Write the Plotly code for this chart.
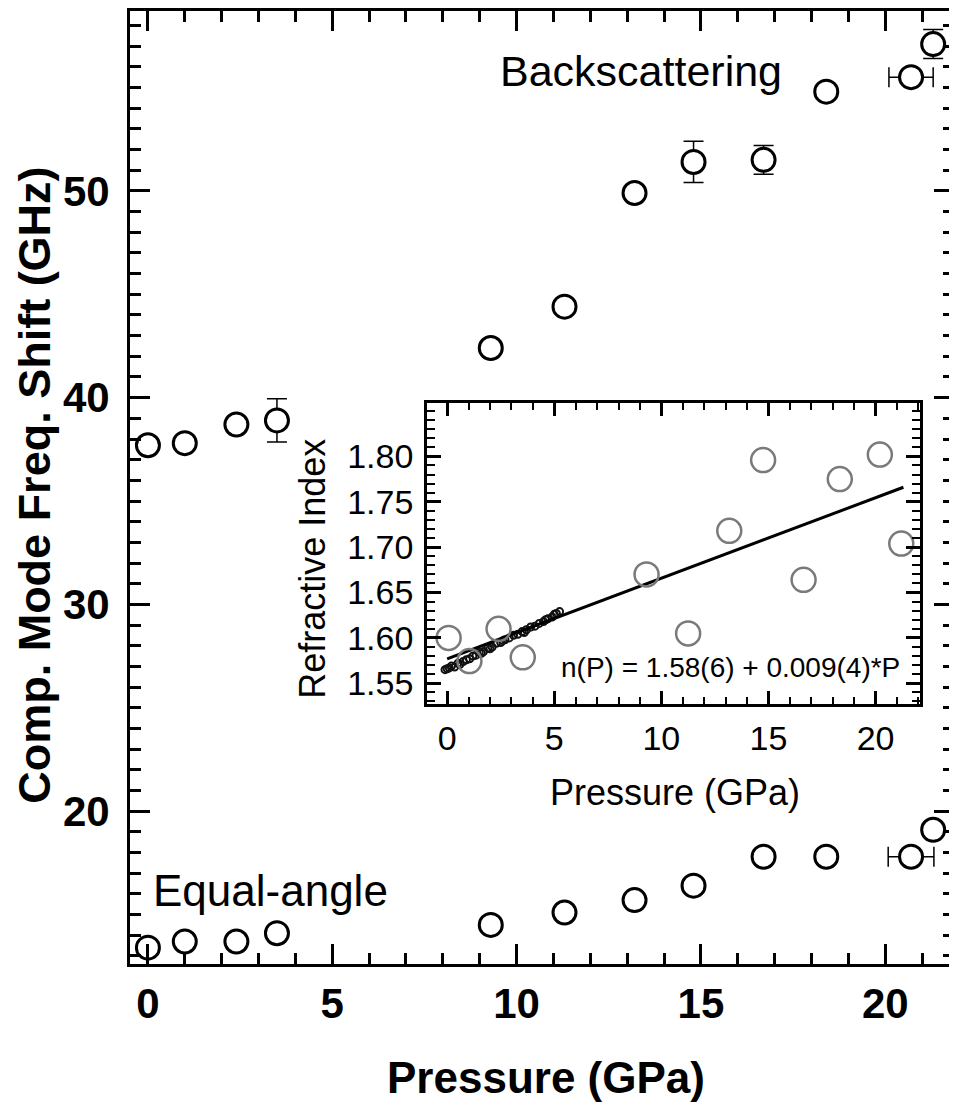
import plotly.graph_objects as go

# ---------------- data ----------------
# Backscattering geometry (main plot)
bs_pressure = [0.0, 1.0, 2.4, 3.5, 9.3, 11.3, 13.2, 14.8, 16.7, 18.4, 20.7, 21.3]
bs_freq = [37.7, 37.8, 38.7, 38.9, 42.4, 44.4, 49.9, 51.4, 51.5, 54.8, 55.5, 57.1]
bs_freq_err = [None, None, None, 1.05, None, None, None, 1.0, 0.7, None, None, 0.7]
bs_pres_err = [None, None, None, None, None, None, None, None, None, None, 0.6, None]

# Equal-angle geometry (main plot)
ea_pressure = [0.0, 1.0, 2.4, 3.5, 9.3, 11.3, 13.2, 14.8, 16.7, 18.4, 20.7, 21.3]
ea_freq = [13.4, 13.7, 13.7, 14.1, 14.5, 15.1, 15.7, 16.4, 17.8, 17.8, 17.8, 19.1]
ea_pres_err = [None, None, None, None, None, None, None, None, None, None, 0.62, None]

# Inset: refractive index
ri_pressure = [0.07, 1.04, 2.4, 3.53, 9.31, 11.25, 13.17, 14.75, 16.64, 18.33, 20.2, 21.2]
ri_index = [1.600, 1.5745, 1.610, 1.5786, 1.670, 1.605, 1.718, 1.796, 1.664, 1.775, 1.802, 1.704]

# Inset: dense low-pressure reference data (small black dots)
ref_pressure = [-0.1, 0.0, 0.1, 0.2, 0.35, 0.5, 0.6, 0.75, 0.9, 1.05, 1.2, 1.35, 1.5, 1.6,
                1.7, 1.9, 2.0, 2.1, 2.3, 2.5, 2.6, 2.7, 2.9, 3.1, 3.3, 3.5, 3.6, 3.7, 3.9,
                4.1, 4.3, 4.5, 4.6, 4.7, 4.9, 5.0, 5.1, 5.25]
ref_index = [1.565, 1.566, 1.567, 1.569, 1.568, 1.572, 1.571, 1.574, 1.576, 1.577, 1.580,
             1.581, 1.584, 1.583, 1.585, 1.589, 1.588, 1.590, 1.594, 1.595, 1.597, 1.598,
             1.600, 1.603, 1.604, 1.607, 1.606, 1.609, 1.612, 1.613, 1.616, 1.618, 1.620,
             1.621, 1.623, 1.626, 1.627, 1.629]

# Inset: linear fit n(P)
fit_pressure = [0.0, 21.3]
fit_index = [1.577, 1.766]

main_xticks = [0, 5, 10, 15, 20]
main_yticks = [20, 30, 40, 50]
inset_xticks = [0, 5, 10, 15, 20]
inset_yticks = [1.55, 1.60, 1.65, 1.70, 1.75, 1.80]

# ---------------- figure ----------------
# The page body has an 8 px margin, so the figure is sized to fit the window.
OFF = 8
W, H = 957 - OFF, 1103 - OFF
ML, MR, MT, MB = 130 - OFF, 0, 10 - OFF, 139
PW, PH = W - ML - MR, H - MT - MB


def px2paper_x(px):
    return (px - OFF - ML) / PW


def px2paper_y(py):
    return 1 - (py - OFF - MT) / PH


FONT = "Liberation Sans, Arial, Helvetica, sans-serif"

fig = go.Figure()

err_style = dict(color="black", thickness=1.5, width=10)

fig.add_trace(go.Scatter(
    x=bs_pressure, y=bs_freq, mode="markers", name="Backscattering",
    marker=dict(symbol="circle", size=23, color="white", line=dict(color="black", width=3)),
    error_y=dict(type="data", array=bs_freq_err, visible=True, **err_style),
    error_x=dict(type="data", array=bs_pres_err, visible=True, **err_style),
    xaxis="x", yaxis="y", showlegend=False, cliponaxis=False,
))
fig.add_trace(go.Scatter(
    x=ea_pressure, y=ea_freq, mode="markers", name="Equal-angle",
    marker=dict(symbol="circle", size=23, color="white", line=dict(color="black", width=3)),
    error_x=dict(type="data", array=ea_pres_err, visible=True, **err_style),
    xaxis="x", yaxis="y", showlegend=False, cliponaxis=False,
))

# inset traces
fig.add_trace(go.Scatter(
    x=ref_pressure, y=ref_index, mode="markers", name="reference",
    marker=dict(symbol="circle-open", size=7, color="#111111", line=dict(width=2)),
    xaxis="x2", yaxis="y2", showlegend=False,
))
fig.add_trace(go.Scatter(
    x=fit_pressure, y=fit_index, mode="lines", name="fit",
    line=dict(color="black", width=3),
    xaxis="x2", yaxis="y2", showlegend=False,
))
fig.add_trace(go.Scatter(
    x=ri_pressure, y=ri_index, mode="markers", name="Refractive index",
    marker=dict(symbol="circle-open", size=24, color="#7a7a7a", line=dict(width=2.5)),
    xaxis="x2", yaxis="y2", showlegend=False,
))

axis_common = dict(showgrid=False, zeroline=False, showline=True, linecolor="black",
                   ticks="inside", mirror="ticks", tickcolor="black")

fig.update_layout(
    width=W, height=H,
    margin=dict(l=ML, r=MR, t=MT, b=MB, pad=0),
    paper_bgcolor="white", plot_bgcolor="white",
    xaxis=dict(domain=[0, 1], anchor="y", range=[-0.486, 21.865],
               tickvals=main_xticks, ticklen=20, tickwidth=3, linewidth=3,
               minor=dict(ticks="inside", ticklen=11, tickwidth=3, dtick=1, tick0=0),
               tickfont=dict(family=FONT, size=42, color="black", weight="bold"),
               ticklabelstandoff=1, **axis_common),
    yaxis=dict(domain=[0, 1], anchor="x", range=[12.61, 58.70],
               tickvals=main_yticks, ticklen=20, tickwidth=3, linewidth=3,
               minor=dict(ticks="inside", ticklen=11, tickwidth=3, dtick=1, tick0=0),
               tickfont=dict(family=FONT, size=42, color="black", weight="bold"),
               ticklabelstandoff=9, **axis_common),
    xaxis2=dict(domain=[px2paper_x(428), px2paper_x(923)], anchor="y2", range=[-0.944, 22.08],
                tickvals=inset_xticks, ticklen=14, tickwidth=2.5, linewidth=2.5,
                minor=dict(ticks="inside", ticklen=8, tickwidth=2, dtick=1, tick0=0),
                tickfont=dict(family=FONT, size=34, color="black"),
                ticklabelstandoff=2, **axis_common),
    yaxis2=dict(domain=[px2paper_y(704), px2paper_y(402)], anchor="x2", range=[1.5269, 1.8593],
                tickvals=inset_yticks, tickformat=".2f", ticklen=14, tickwidth=2.5, linewidth=2.5,
                minor=dict(ticks="inside", ticklen=8, tickwidth=2, dtick=0.01, tick0=1.5),
                tickfont=dict(family=FONT, size=34, color="black"),
                ticklabelstandoff=4, **axis_common),
)

annos = [
    dict(text="Backscattering", x=px2paper_x(643), y=px2paper_y(70),
         font=dict(family=FONT, size=43, color="black")),
    dict(text="Equal-angle", x=px2paper_x(271), y=px2paper_y(890),
         font=dict(family=FONT, size=44, color="black")),
    dict(text="n(P) = 1.58(6) + 0.009(4)*P", x=px2paper_x(905), y=px2paper_y(667),
         xanchor="right", font=dict(family=FONT, size=28, color="black")),
    dict(text="Comp. Mode Freq. Shift (GHz)", x=px2paper_x(34), y=px2paper_y(485),
         textangle=-90, font=dict(family=FONT, size=45, color="black", weight="bold")),
    dict(text="Pressure (GPa)", x=px2paper_x(548), y=px2paper_y(1078),
         font=dict(family=FONT, size=44, color="black", weight="bold")),
    dict(text="Refractive Index", x=px2paper_x(313), y=px2paper_y(568),
         textangle=-90, font=dict(family=FONT, size=36, color="black")),
    dict(text="Pressure (GPa)", x=px2paper_x(677), y=px2paper_y(792),
         font=dict(family=FONT, size=36, color="black")),
]
for a in annos:
    base = dict(xref="paper", yref="paper", showarrow=False, xanchor="center", yanchor="middle")
    base.update(a)
    fig.add_annotation(**base)

fig.write_html("out.html")
